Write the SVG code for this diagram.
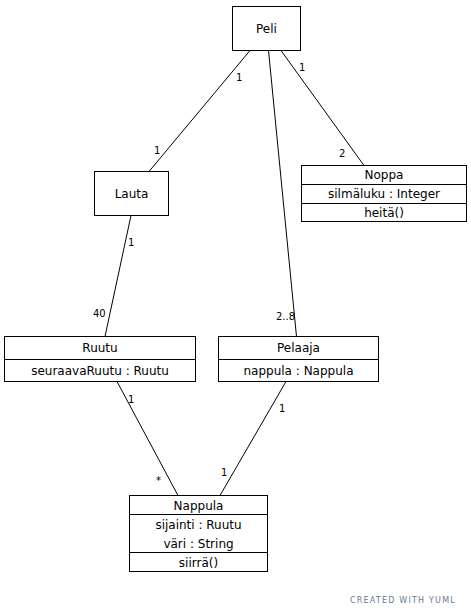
<svg xmlns="http://www.w3.org/2000/svg" width="471" height="615" viewBox="0 0 471 615">
<style>
.box{fill:#fff;stroke:#000;stroke-width:1}
.div{stroke:#000;stroke-width:1}
.t{font-family:"DejaVu Sans",sans-serif;font-size:12px;fill:#000;text-anchor:middle}
.lbl{font-family:"DejaVu Sans",sans-serif;font-size:10px;fill:#000}
.edge{stroke:#000;stroke-width:1;fill:none}
.wm{font-family:"DejaVu Sans",sans-serif;font-size:8px;fill:#6b7a92;letter-spacing:1.2px}
</style>
<rect width="471" height="615" fill="#fff"/>
<g id="connectors">
<line class="edge" x1="250" y1="50.5" x2="149" y2="171.5"/>
<line class="edge" x1="268.5" y1="50.5" x2="296.5" y2="336.5"/>
<line class="edge" x1="281" y1="50.5" x2="364" y2="165.5"/>
<line class="edge" x1="131" y1="215.5" x2="105" y2="336.5"/>
<line class="edge" x1="117" y1="381.5" x2="178" y2="495.5"/>
<line class="edge" x1="286" y1="381.5" x2="220" y2="495.5"/>
<text class="lbl" x="236" y="81">1</text>
<text class="lbl" x="154" y="154">1</text>
<text class="lbl" x="276" y="320">2..8</text>
<text class="lbl" x="299" y="71">1</text>
<text class="lbl" x="339" y="157">2</text>
<text class="lbl" x="128" y="246">1</text>
<text class="lbl" x="93" y="317">40</text>
<text class="lbl" x="128" y="403">1</text>
<text class="lbl" x="156" y="484">*</text>
<text class="lbl" x="279" y="412">1</text>
<text class="lbl" x="221" y="476">1</text>
</g>
<g id="Peli">
<rect class="box" x="232.5" y="6.5" width="68" height="44"/>
<text class="t" x="266.5" y="33">Peli</text>
</g>
<g id="Lauta">
<rect class="box" x="94.5" y="171.5" width="74" height="44"/>
<text class="t" x="131.5" y="198">Lauta</text>
</g>
<g id="Noppa">
<rect class="box" x="301.5" y="165.5" width="165" height="56"/>
<line class="div" x1="301.5" y1="184.5" x2="466.5" y2="184.5"/>
<line class="div" x1="301.5" y1="203.5" x2="466.5" y2="203.5"/>
<text class="t" x="384" y="179">Noppa</text>
<text class="t" x="384" y="198">silmäluku : Integer</text>
<text class="t" x="384" y="217">heitä()</text>
</g>
<g id="Ruutu">
<rect class="box" x="4.5" y="336.5" width="191" height="45"/>
<line class="div" x1="4.5" y1="359.5" x2="195.5" y2="359.5"/>
<text class="t" x="100" y="352">Ruutu</text>
<text class="t" x="100" y="375">seuraavaRuutu : Ruutu</text>
</g>
<g id="Pelaaja">
<rect class="box" x="218.5" y="336.5" width="160" height="45"/>
<line class="div" x1="218.5" y1="359.5" x2="378.5" y2="359.5"/>
<text class="t" x="298.5" y="352">Pelaaja</text>
<text class="t" x="298.5" y="375">nappula : Nappula</text>
</g>
<g id="Nappula">
<rect class="box" x="129.5" y="495.5" width="138" height="76"/>
<line class="div" x1="129.5" y1="514.5" x2="267.5" y2="514.5"/>
<line class="div" x1="129.5" y1="552.5" x2="267.5" y2="552.5"/>
<text class="t" x="198.5" y="510">Nappula</text>
<text class="t" x="198.5" y="529">sijainti : Ruutu</text>
<text class="t" x="198.5" y="548">väri : String</text>
<text class="t" x="198.5" y="567">siirrä()</text>
</g>
<text class="wm" x="350" y="603">CREATED WITH YUML</text>
</svg>
